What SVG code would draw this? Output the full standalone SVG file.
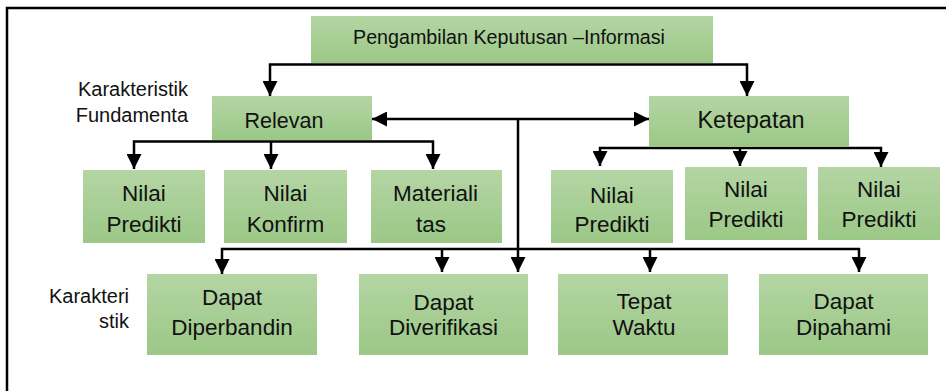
<svg xmlns="http://www.w3.org/2000/svg" width="946" height="391" viewBox="0 0 946 391">
<style>
.box{fill:url(#g);}
.t{font-family:"Liberation Sans",Arial,sans-serif;fill:#111;text-anchor:middle;}
.lbl{font-family:"Liberation Sans",Arial,sans-serif;fill:#111;text-anchor:end;font-size:20px;}
.c{fill:none;stroke:#000;stroke-width:2.5;}
</style>
<defs>
<linearGradient id="g" x1="0" y1="0" x2="0" y2="1">
<stop offset="0" stop-color="#b4d5a4"/>
<stop offset="1" stop-color="#9bc886"/>
</linearGradient>
<marker id="ah" markerUnits="userSpaceOnUse" markerWidth="15" markerHeight="15" refX="14" refY="7" orient="auto-start-reverse" viewBox="0 0 14 14">
<path d="M0,0 L14,7 L0,14 z" fill="#000"/>
</marker>
</defs>
<rect x="0" y="0" width="946" height="391" fill="#fff"/>
<path d="M7,391 V8 H946" fill="none" stroke="#000" stroke-width="2.5"/>

<g id="connectors">
<path class="c" d="M512,64.5 H270 V96" marker-end="url(#ah)"/>
<path class="c" d="M512,64.5 H747 V96" marker-end="url(#ah)"/>
<path class="c" d="M372,119 H649" marker-start="url(#ah)" marker-end="url(#ah)"/>
<path class="c" d="M518,119 V272" marker-end="url(#ah)"/>
<path class="c" d="M271,141.5 H134 V169" marker-end="url(#ah)"/>
<path class="c" d="M271,141.5 V169" marker-end="url(#ah)"/>
<path class="c" d="M271,141.5 H433 V169" marker-end="url(#ah)"/>
<path class="c" d="M740,148 H600 V166" marker-end="url(#ah)"/>
<path class="c" d="M740,148 V166" marker-end="url(#ah)"/>
<path class="c" d="M740,148 H881 V167" marker-end="url(#ah)"/>
<path class="c" d="M518,249 H222 V274" marker-end="url(#ah)"/>
<path class="c" d="M442,249 V272" marker-end="url(#ah)"/>
<path class="c" d="M518,249 H859 V272" marker-end="url(#ah)"/>
<path class="c" d="M650,249 V272" marker-end="url(#ah)"/>
</g>

<g id="label-fundamental">
<text class="lbl" x="188" y="96">Karakteristik</text>
<text class="lbl" x="188" y="122">Fundamenta</text>
</g>
<g id="label-karakteristik">
<text class="lbl" x="129" y="303">Karakteri</text>
<text class="lbl" x="129" y="328">stik</text>
</g>

<g id="n-top">
<rect class="box" x="311" y="16" width="402" height="47"/>
<text class="t" x="509" y="44" font-size="19.7">Pengambilan Keputusan –Informasi</text>
</g>
<g id="n-relevan">
<rect class="box" x="212" y="96" width="160" height="44"/>
<text class="t" x="284" y="128" font-size="21.5">Relevan</text>
</g>
<g id="n-ketepatan">
<rect class="box" x="649" y="96" width="200" height="51"/>
<text class="t" x="751" y="128" font-size="23.5">Ketepatan</text>
</g>
<g id="n-prediktif1">
<rect class="box" x="83" y="170" width="122" height="73"/>
<text class="t" x="144" y="201" font-size="22.5">Nilai</text>
<text class="t" x="144" y="232" font-size="22.5">Predikti</text>
</g>
<g id="n-konfirm">
<rect class="box" x="224" y="170" width="123" height="73"/>
<text class="t" x="285.5" y="201" font-size="22.5">Nilai</text>
<text class="t" x="285.5" y="232" font-size="22.5">Konfirm</text>
</g>
<g id="n-materialitas">
<rect class="box" x="371" y="170" width="131" height="73"/>
<text class="t" x="435.5" y="201" font-size="22.5">Materiali</text>
<text class="t" x="431" y="232" font-size="22.5">tas</text>
</g>
<g id="n-prediktif2">
<rect class="box" x="551" y="170" width="122" height="73"/>
<text class="t" x="612" y="203" font-size="22.5">Nilai</text>
<text class="t" x="612" y="232" font-size="22.5">Predikti</text>
</g>
<g id="n-prediktif3">
<rect class="box" x="685" y="167" width="122" height="73"/>
<text class="t" x="746" y="197" font-size="22.5">Nilai</text>
<text class="t" x="746" y="227" font-size="22.5">Predikti</text>
</g>
<g id="n-prediktif4">
<rect class="box" x="818" y="167" width="122" height="73"/>
<text class="t" x="879" y="197" font-size="22.5">Nilai</text>
<text class="t" x="879" y="227" font-size="22.5">Predikti</text>
</g>
<g id="n-diperbandin">
<rect class="box" x="147" y="274" width="170" height="81"/>
<text class="t" x="232" y="305" font-size="22.5">Dapat</text>
<text class="t" x="232" y="335" font-size="22.5">Diperbandin</text>
</g>
<g id="n-diverifikasi">
<rect class="box" x="359" y="274" width="169" height="81"/>
<text class="t" x="443.5" y="310" font-size="22.5">Dapat</text>
<text class="t" x="443.5" y="335" font-size="22.5">Diverifikasi</text>
</g>
<g id="n-tepatwaktu">
<rect class="box" x="558" y="274" width="170" height="81"/>
<text class="t" x="644" y="309" font-size="22.5">Tepat</text>
<text class="t" x="644" y="335" font-size="22.5">Waktu</text>
</g>
<g id="n-dipahami">
<rect class="box" x="759" y="274" width="169" height="81"/>
<text class="t" x="843.5" y="309" font-size="22.5">Dapat</text>
<text class="t" x="843.5" y="335" font-size="22.5">Dipahami</text>
</g>
</svg>
